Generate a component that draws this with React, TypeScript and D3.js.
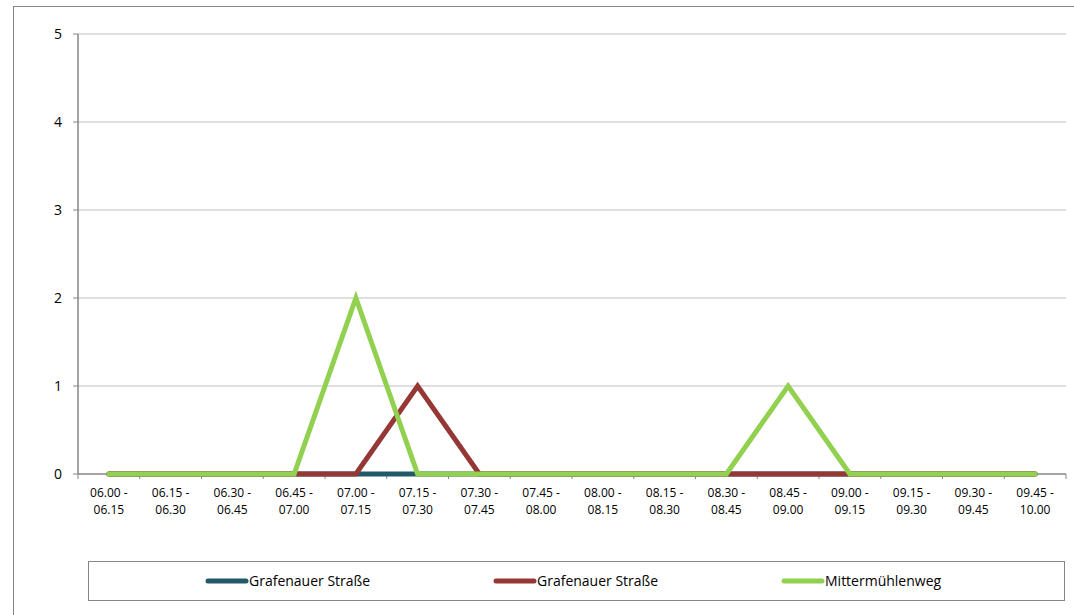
import React from "react";
import * as d3 from "d3";

const categories = [
  "06.00 - 06.15", "06.15 - 06.30", "06.30 - 06.45", "06.45 - 07.00",
  "07.00 - 07.15", "07.15 - 07.30", "07.30 - 07.45", "07.45 - 08.00",
  "08.00 - 08.15", "08.15 - 08.30", "08.30 - 08.45", "08.45 - 09.00",
  "09.00 - 09.15", "09.15 - 09.30", "09.30 - 09.45", "09.45 - 10.00",
];
const seriesNames = ["Grafenauer Straße", "Grafenauer Straße", "Mittermühlenweg"];
const seriesColors = ["#215968", "#953735", "#92D050"];
const grafenauer1 = [0, 0, 0, 0, 0, 0, 0, 0, 0, 0, 0, 0, 0, 0, 0, 0];
const grafenauer2 = [0, 0, 0, 0, 0, 1, 0, 0, 0, 0, 0, 0, 0, 0, 0, 0];
const mittermuehlenweg = [0, 0, 0, 0, 2, 0, 0, 0, 0, 0, 0, 1, 0, 0, 0, 0];
const yTicks = [0, 1, 2, 3, 4, 5];

const FONT = "'Open Sans', sans-serif";

export default function App() {
  const W = 1074, H = 615;
  const left = 78, right = 1066, top = 34, bottom = 474;
  const x = d3.scaleBand<number>().domain(d3.range(categories.length)).range([left, right]);
  const y = d3.scaleLinear().domain([0, 5]).range([bottom, top]);
  const line = d3.line<number>().x((_, i) => (x(i) as number) + x.bandwidth() / 2).y((d) => y(d));
  const series = [grafenauer1, grafenauer2, mittermuehlenweg];
  const boundaries = d3.range(categories.length + 1).map((i) => left + i * x.bandwidth());
  const legendX = [206, 494, 782];

  return (
    <svg width={W} height={H} style={{ position: "absolute", left: 0, top: 0, background: "#fff" }}>
      <rect x={13.5} y={6.5} width={1070} height={620} fill="none" stroke="#868686" strokeWidth={1} />
      {yTicks.map((t) => (
        <g key={t}>
          {t > 0 && <line x1={left} x2={right} y1={y(t)} y2={y(t)} stroke="#BFBFBF" strokeWidth={1} />}
          <line x1={left - 5} x2={left} y1={y(t)} y2={y(t)} stroke="#868686" strokeWidth={1} />
          <text x={62} y={y(t)} dy="0.35em" textAnchor="end" fontFamily={FONT} fontSize={14} fill="#000">{t}</text>
        </g>
      ))}
      <line x1={left} x2={left} y1={top} y2={bottom} stroke="#868686" strokeWidth={1.5} />
      <line x1={left} x2={right} y1={bottom} y2={bottom} stroke="#868686" strokeWidth={1.5} />
      {boundaries.map((b, i) => (
        <line key={i} x1={b} x2={b} y1={bottom} y2={bottom + 5} stroke="#868686" strokeWidth={1} />
      ))}
      {categories.map((c, i) => {
        const [a, b] = c.split(" - ");
        const cx = (x(i) as number) + x.bandwidth() / 2;
        return (
          <text key={i} x={cx} textAnchor="middle" fontFamily={FONT} fontSize={12} fill="#000">
            <tspan x={cx} y={497}>{a + " -"}</tspan>
            <tspan x={cx} y={514}>{b}</tspan>
          </text>
        );
      })}
      {series.map((s, k) => (
        <path key={k} d={line(s) as string} fill="none" stroke={seriesColors[k]} strokeWidth={5} strokeLinejoin="miter" strokeLinecap="round" />
      ))}
      <rect x={88.5} y={561.5} width={976} height={39} fill="#fff" stroke="#868686" strokeWidth={1} />
      {seriesNames.map((n, k) => (
        <g key={k}>
          <line x1={legendX[k] + 2} x2={legendX[k] + 40} y1={581} y2={581} stroke={seriesColors[k]} strokeWidth={5} strokeLinecap="round" />
          <text x={legendX[k] + 43} y={581} dy="0.35em" fontFamily={FONT} fontSize={14} fill="#000">{n}</text>
        </g>
      ))}
    </svg>
  );
}
